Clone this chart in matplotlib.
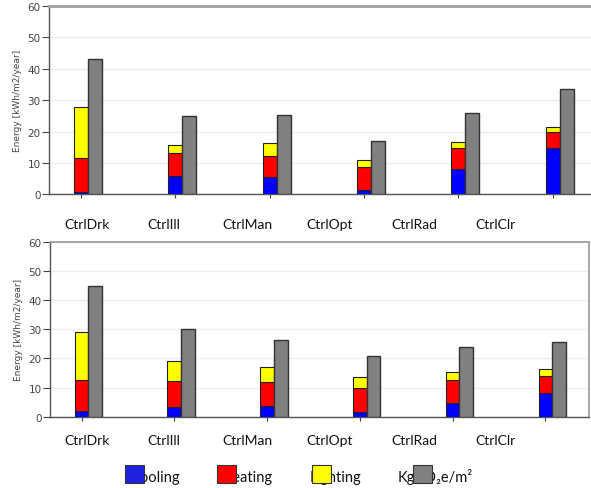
import matplotlib
matplotlib.use("Agg")
import matplotlib.pyplot as plt
import numpy as np
from matplotlib.patches import Rectangle

categories = ["CtrlDrk", "CtrlIll", "CtrlMan", "CtrlOpt", "CtrlRad", "CtrlClr"]

# top panel (segment heights, stacked)
top_cooling = [0.8, 5.9, 5.4, 1.4, 8.1, 14.8]
top_heating = [10.9, 7.4, 6.8, 7.2, 6.6, 5.0]
top_lighting = [16.2, 2.5, 4.0, 2.3, 2.1, 1.8]
top_co2 = [43.2, 24.8, 25.2, 17.0, 26.0, 33.4]

# bottom panel
bot_cooling = [1.8, 3.4, 3.7, 1.6, 4.8, 8.0]
bot_heating = [10.8, 8.7, 8.3, 8.3, 7.8, 6.1]
bot_lighting = [16.3, 7.1, 4.9, 3.6, 2.6, 2.2]
bot_co2 = [44.8, 29.9, 26.3, 20.9, 24.0, 25.5]

legend_labels = ["Cooling", "Heating", "Lighting", "KgCO₂e/m²"]
colors = ["#0000ff", "#ff0000", "#ffff00", "#808080"]
legend_colors = ["#2020e0", "#ff0000", "#ffff00", "#808080"]

W, H = 591, 489
fig = plt.figure(figsize=(W / 100, H / 100), dpi=100)

lab_font = ["Lato", "DejaVu Sans"]


def draw_panel(ax, cooling, heating, lighting, co2):
    x = np.arange(len(categories))
    w = 0.148
    ek = dict(edgecolor="#222222", linewidth=0.8)
    ax.bar(x, cooling, w, color=colors[0], **ek, zorder=3)
    ax.bar(x, heating, w, bottom=cooling, color=colors[1], **ek, zorder=3)
    ax.bar(x, lighting, w, bottom=np.add(cooling, heating), color=colors[2], **ek, zorder=3)
    ax.bar(x + w, co2, w, color=colors[3], edgecolor="#333333", linewidth=1.0, zorder=3)
    ax.set_xlim(-0.34, 5.47)
    ax.set_ylim(0, 60)
    ax.set_yticks(range(0, 61, 10))
    ax.set_xticks(x)
    ax.set_xticklabels([])
    ax.yaxis.grid(True, color="#eeeeee", linewidth=1.0, zorder=0)
    ax.set_axisbelow(True)
    ax.tick_params(axis="y", labelsize=7.5, colors="#444444", length=5, width=0.8, pad=1)
    ax.tick_params(axis="x", length=3, width=0.8, colors="#444444")
    ax.set_ylabel("Energy [kWh/m2/year]", fontsize=6.5, color="#444444", labelpad=4)
    for s in ["left", "bottom"]:
        ax.spines[s].set_color("#555555")
        ax.spines[s].set_linewidth(1.0)


ax1 = fig.add_axes([49 / W, 1 - 195.3 / H, 1 - 49 / W + 0.01, (195.3 - 7) / H])
draw_panel(ax1, top_cooling, top_heating, top_lighting, top_co2)
ax1.spines["top"].set_color("#a0a0a0")
ax1.spines["top"].set_linewidth(2.0)
ax1.spines["right"].set_visible(False)

ax2 = fig.add_axes([50 / W, 1 - 417.7 / H, (589 - 50) / W, (417.7 - 242.7) / H])
draw_panel(ax2, bot_cooling, bot_heating, bot_lighting, bot_co2)
for s in ["top", "right"]:
    ax2.spines[s].set_color("#999999")
    ax2.spines[s].set_linewidth(1.2)

# category labels under each panel
label_x = [87.5, 163.5, 247.5, 330, 414, 495]
for base_y in [229, 445]:
    for cx, name in zip(label_x, categories):
        fig.text(cx / W, 1 - base_y / H, name, ha="center", va="baseline",
                 fontsize=10, family=lab_font, color="#111111")

# legend: text with colour squares drawn on top of it
text_x = [130, 222, 310, 398]
box_x = [125, 217, 312, 413]
for tx, bx, name, c in zip(text_x, box_x, legend_labels, legend_colors):
    fig.text(tx / W, 1 - 482.5 / H, name, ha="left", va="baseline",
             fontsize=10.5, family=lab_font, color="#111111", zorder=2)
    fig.add_artist(Rectangle((bx / W, 1 - 484 / H), 19 / W, 18 / H,
                             transform=fig.transFigure, facecolor=c,
                             edgecolor="#333333", linewidth=0.8, zorder=5))

fig.savefig("out.png", dpi=100)
